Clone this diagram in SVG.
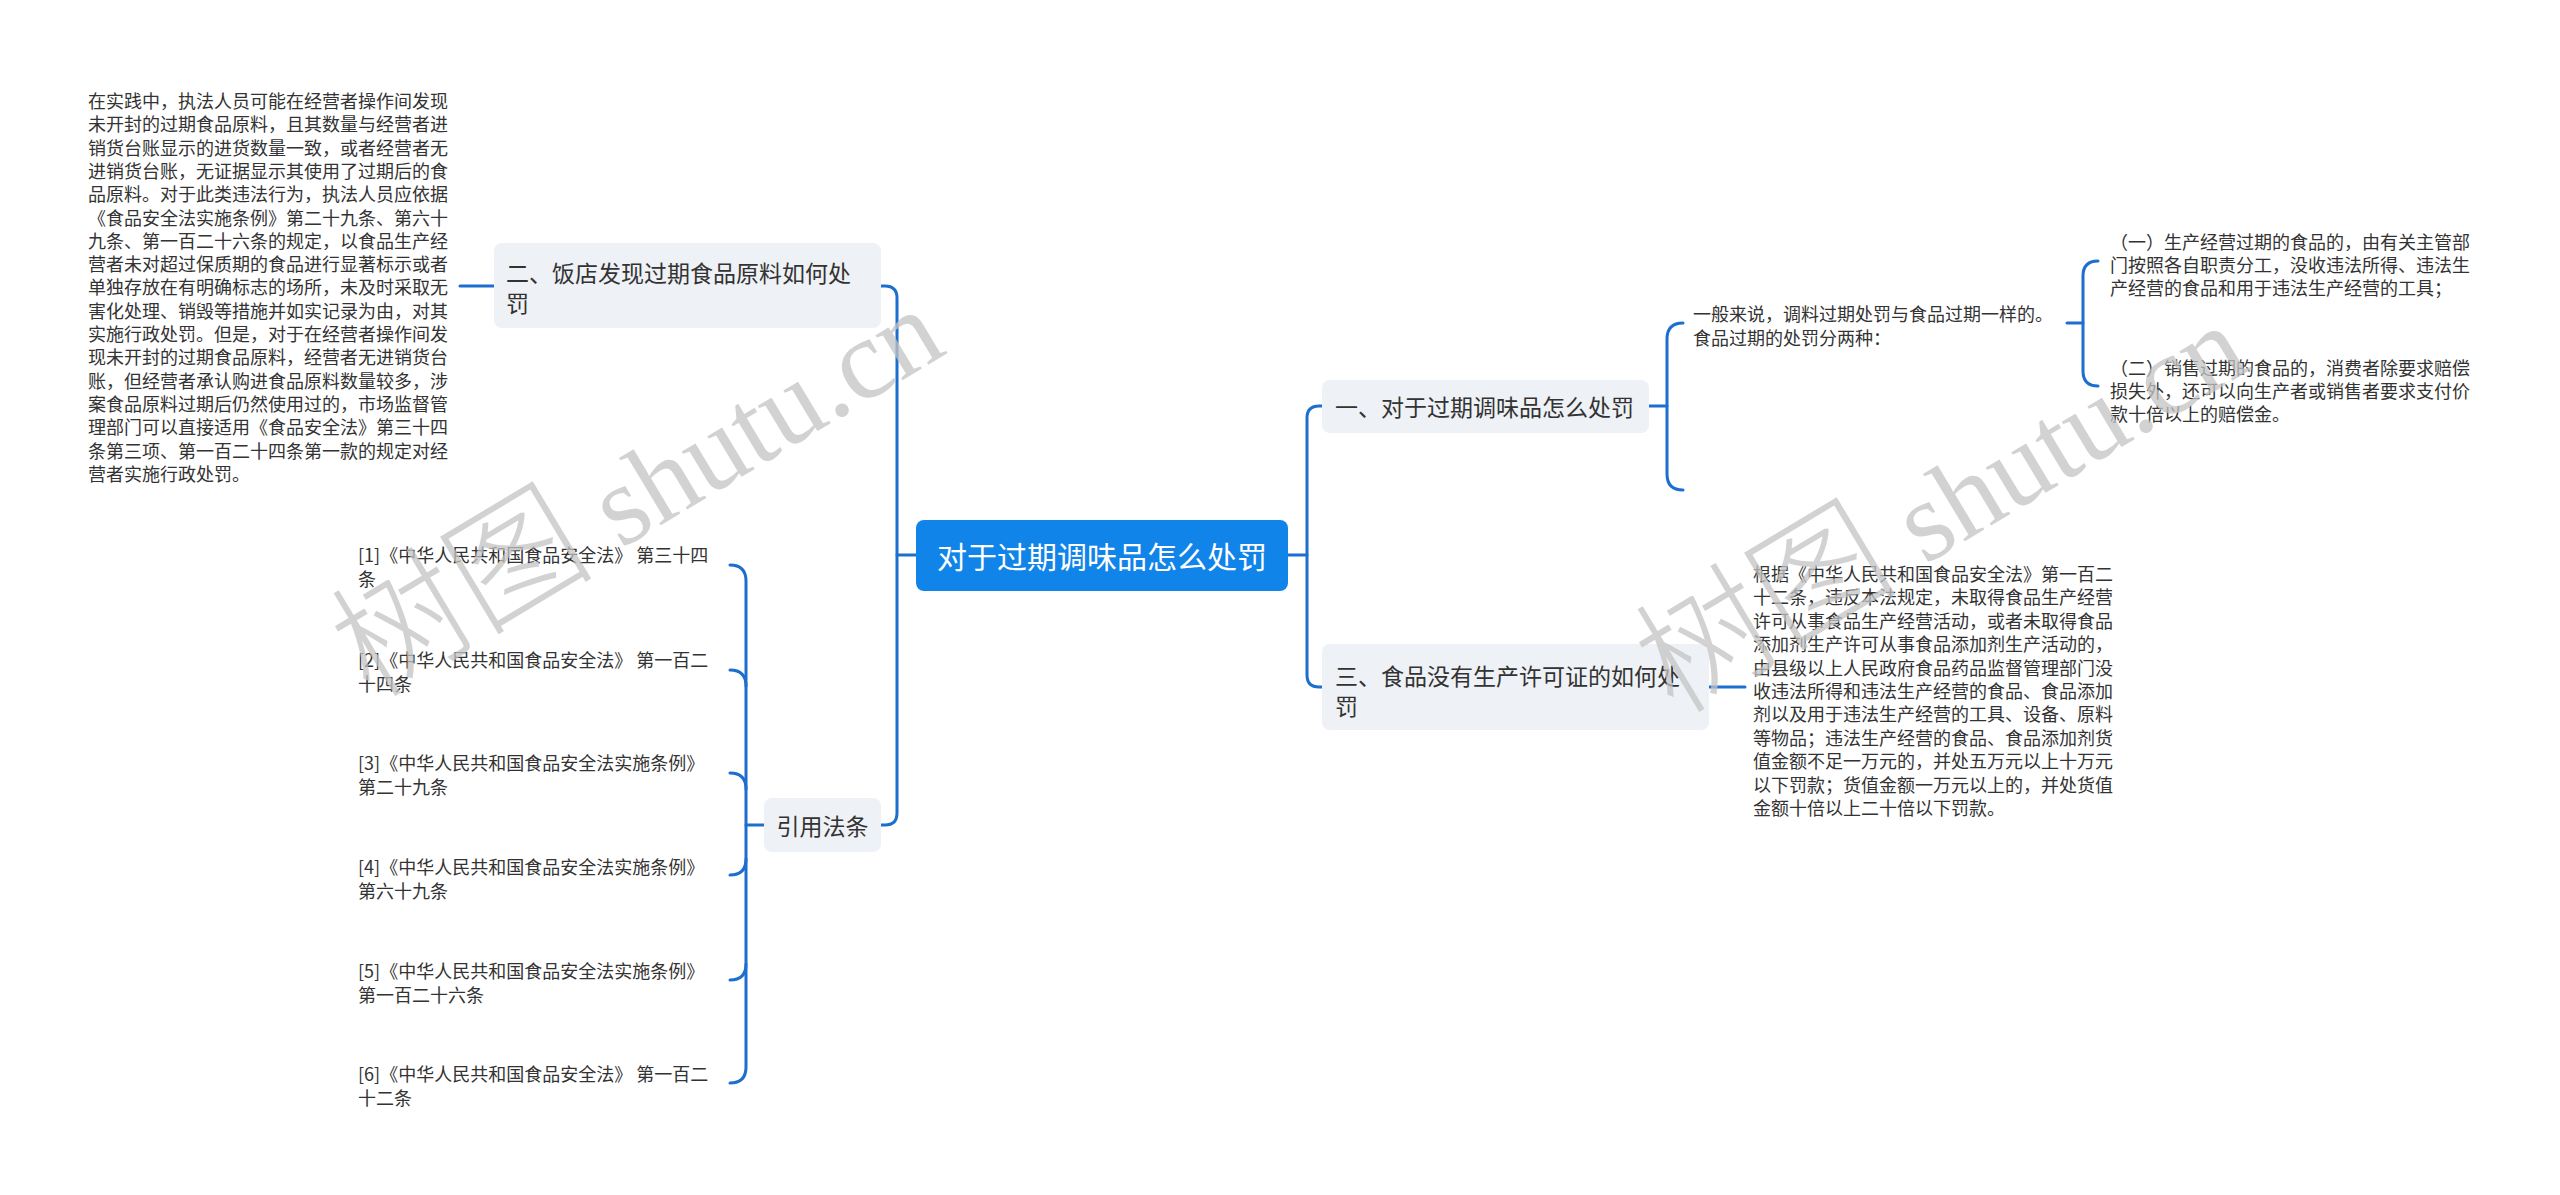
<svg xmlns="http://www.w3.org/2000/svg" width="2560" height="1195" viewBox="0 0 2560 1195">
<style>
.t{font-family:"Noto Sans CJK SC","Liberation Sans",sans-serif;fill:#333;dominant-baseline:central}
.s{font-size:18px}
.m{font-size:23px}
.r{font-size:30px;fill:#fff}
.box{fill:#eef1f5}
.c{fill:none;stroke:#1c6fcf;stroke-width:3;stroke-linecap:round}
.wm{fill:#c4c4c4;opacity:0.75}
.wc{font-family:"Noto Sans CJK SC",sans-serif;font-size:132px;font-weight:300}
.wl{font-family:"Liberation Serif",serif;font-size:114px}
</style>
<rect width="2560" height="1195" fill="#fff"/>
<g id="connectors">
<path class="c" d="M1288,555 H1307"/>
<path class="c" d="M1322,406 H1319 Q1307,406 1307,418 V675 Q1307,687 1319,687 H1322"/>
<path class="c" d="M916,555 H897"/>
<path class="c" d="M881,286 H885 Q897,286 897,298 V813 Q897,825 885,825 H881"/>
<path class="c" d="M494,286 H460"/>
<path class="c" d="M764,825 H746"/>
<path class="c" d="M730,565 Q746,565 746,581 V1067 Q746,1083 730,1083"/>
<path class="c" d="M730,670 Q746,670 746,686"/>
<path class="c" d="M730,773 Q746,773 746,789"/>
<path class="c" d="M730,875 Q746,875 746,859"/>
<path class="c" d="M730,980 Q746,980 746,964"/>
<path class="c" d="M1649,406 H1667"/>
<path class="c" d="M1683,323 Q1667,323 1667,339 V474 Q1667,490 1683,490"/>
<path class="c" d="M2067,323 H2083"/>
<path class="c" d="M2098,261 Q2083,261 2083,276 V371 Q2083,386 2098,386"/>
<path class="c" d="M1709,687 H1745"/>
</g>
<g id="root">
<rect x="916" y="520" width="372" height="71" rx="8" fill="#1184ea"/>
<text class="t r" x="1102" y="555" text-anchor="middle">对于过期调味品怎么处罚</text>
</g>
<g id="n1">
<rect class="box" x="1322" y="380" width="327" height="53" rx="8"/>
<text class="t m" x="1335" y="406">一、对于过期调味品怎么处罚</text>
</g>
<g id="n1a">
<text class="t s" x="1693"><tspan x="1693" y="313">一般来说，调料过期处罚与食品过期一样的。</tspan><tspan x="1693" y="337">食品过期的处罚分两种：</tspan></text>
</g>
<g id="n1a1">
<text class="t s"><tspan x="2110" y="241">（一）生产经营过期的食品的，由有关主管部</tspan><tspan x="2110" y="264">门按照各自职责分工，没收违法所得、违法生</tspan><tspan x="2110" y="287">产经营的食品和用于违法生产经营的工具；</tspan></text>
</g>
<g id="n1a2">
<text class="t s"><tspan x="2110" y="367">（二）销售过期的食品的，消费者除要求赔偿</tspan><tspan x="2110" y="390">损失外，还可以向生产者或销售者要求支付价</tspan><tspan x="2110" y="413">款十倍以上的赔偿金。</tspan></text>
</g>
<g id="n3">
<rect class="box" x="1322" y="644" width="387" height="86" rx="8"/>
<text class="t m"><tspan x="1335" y="675">三、食品没有生产许可证的如何处</tspan><tspan x="1335" y="705">罚</tspan></text>
</g>
<g id="n3a">
<text class="t s"><tspan x="1753" y="573">根据《中华人民共和国食品安全法》第一百二</tspan><tspan x="1753" y="596.4">十二条，违反本法规定，未取得食品生产经营</tspan><tspan x="1753" y="619.8">许可从事食品生产经营活动，或者未取得食品</tspan><tspan x="1753" y="643.2">添加剂生产许可从事食品添加剂生产活动的，</tspan><tspan x="1753" y="666.6">由县级以上人民政府食品药品监督管理部门没</tspan><tspan x="1753" y="690">收违法所得和违法生产经营的食品、食品添加</tspan><tspan x="1753" y="713.4">剂以及用于违法生产经营的工具、设备、原料</tspan><tspan x="1753" y="736.8">等物品；违法生产经营的食品、食品添加剂货</tspan><tspan x="1753" y="760.2">值金额不足一万元的，并处五万元以上十万元</tspan><tspan x="1753" y="783.6">以下罚款；货值金额一万元以上的，并处货值</tspan><tspan x="1753" y="807">金额十倍以上二十倍以下罚款。</tspan></text>
</g>
<g id="n2">
<rect class="box" x="494" y="243" width="387" height="85" rx="8"/>
<text class="t m"><tspan x="506" y="272">二、饭店发现过期食品原料如何处</tspan><tspan x="506" y="302">罚</tspan></text>
</g>
<g id="n2a">
<text class="t s"><tspan x="88" y="100">在实践中，执法人员可能在经营者操作间发现</tspan><tspan x="88" y="123.3">未开封的过期食品原料，且其数量与经营者进</tspan><tspan x="88" y="146.6">销货台账显示的进货数量一致，或者经营者无</tspan><tspan x="88" y="169.9">进销货台账，无证据显示其使用了过期后的食</tspan><tspan x="88" y="193.2">品原料。对于此类违法行为，执法人员应依据</tspan><tspan x="88" y="216.5">《食品安全法实施条例》第二十九条、第六十</tspan><tspan x="88" y="239.8">九条、第一百二十六条的规定，以食品生产经</tspan><tspan x="88" y="263.1">营者未对超过保质期的食品进行显著标示或者</tspan><tspan x="88" y="286.4">单独存放在有明确标志的场所，未及时采取无</tspan><tspan x="88" y="309.7">害化处理、销毁等措施并如实记录为由，对其</tspan><tspan x="88" y="333">实施行政处罚。但是，对于在经营者操作间发</tspan><tspan x="88" y="356.3">现未开封的过期食品原料，经营者无进销货台</tspan><tspan x="88" y="379.6">账，但经营者承认购进食品原料数量较多，涉</tspan><tspan x="88" y="402.9">案食品原料过期后仍然使用过的，市场监督管</tspan><tspan x="88" y="426.2">理部门可以直接适用《食品安全法》第三十四</tspan><tspan x="88" y="449.5">条第三项、第一百二十四条第一款的规定对经</tspan><tspan x="88" y="472.8">营者实施行政处罚。</tspan></text>
</g>
<g id="n4">
<rect class="box" x="764" y="798" width="117" height="54" rx="8"/>
<text class="t m" x="822.5" y="825" text-anchor="middle">引用法条</text>
</g>
<g id="ref1"><text class="t s"><tspan x="358" y="554">[1]《中华人民共和国食品安全法》 第三十四</tspan><tspan x="358" y="578">条</tspan></text></g>
<g id="ref2"><text class="t s"><tspan x="358" y="659">[2]《中华人民共和国食品安全法》 第一百二</tspan><tspan x="358" y="683">十四条</tspan></text></g>
<g id="ref3"><text class="t s"><tspan x="358" y="762">[3]《中华人民共和国食品安全法实施条例》</tspan><tspan x="358" y="786">第二十九条</tspan></text></g>
<g id="ref4"><text class="t s"><tspan x="358" y="866">[4]《中华人民共和国食品安全法实施条例》</tspan><tspan x="358" y="890">第六十九条</tspan></text></g>
<g id="ref5"><text class="t s"><tspan x="358" y="970">[5]《中华人民共和国食品安全法实施条例》</tspan><tspan x="358" y="994">第一百二十六条</tspan></text></g>
<g id="ref6"><text class="t s"><tspan x="358" y="1073">[6]《中华人民共和国食品安全法》 第一百二</tspan><tspan x="358" y="1097">十二条</tspan></text></g>
<g id="watermarks">
<text class="wm" transform="translate(370,700) rotate(-31)"><tspan class="wc">树图</tspan><tspan class="wl"> shutu.cn</tspan></text>
<text class="wm" transform="translate(1674,716) rotate(-31)"><tspan class="wc">树图</tspan><tspan class="wl"> shutu.cn</tspan></text>
</g>
</svg>
